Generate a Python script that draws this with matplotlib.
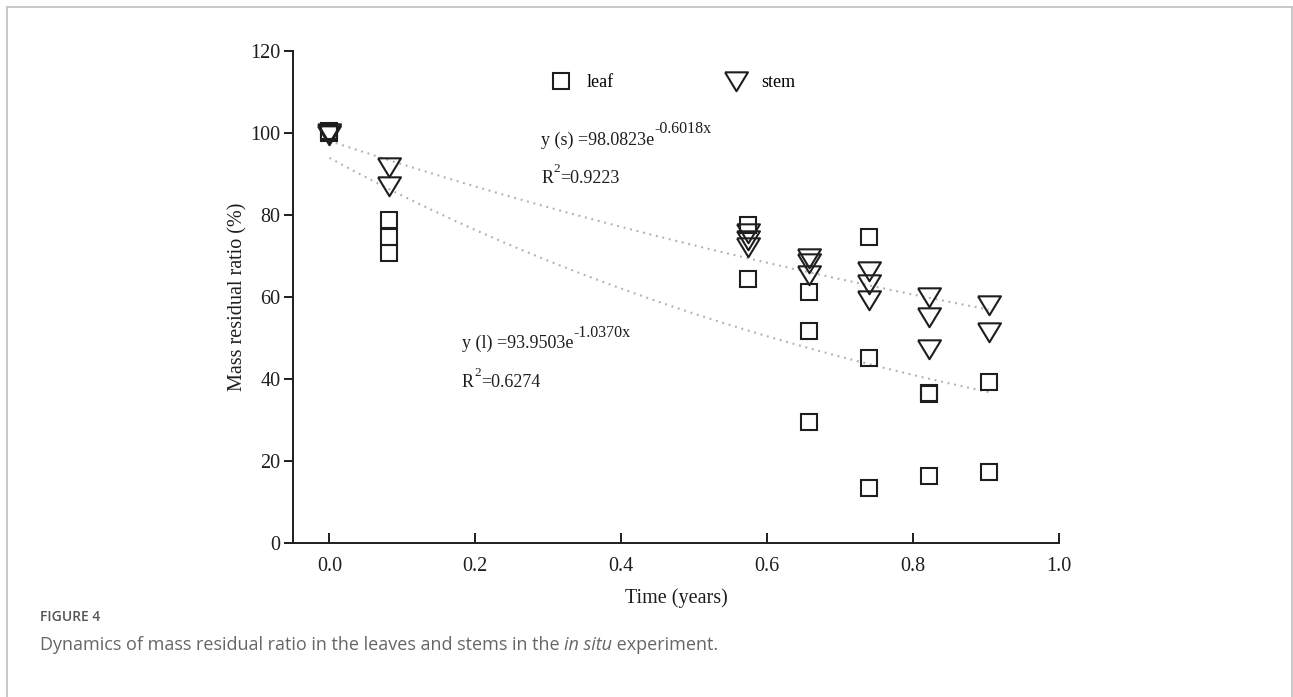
import numpy as np
import matplotlib
matplotlib.use("Agg")
import matplotlib.pyplot as plt
from matplotlib.lines import Line2D

# sampling times (years) and measured mass residual ratio (%)
times = [0.0, 0.082, 0.574, 0.658, 0.740, 0.822, 0.904]
leaf_values = [
    [100.0, 100.5],
    [78.8, 74.6, 70.7],
    [77.6, 64.4],
    [61.2, 51.7, 29.5],
    [74.6, 45.1, 13.4],
    [36.3, 36.6, 16.3],
    [39.3, 17.3],
]
stem_values = [
    [100.0, 99.5],
    [91.7, 87.0],
    [75.5, 74.0, 72.3],
    [69.5, 68.2, 65.4],
    [66.3, 63.2, 59.3],
    [60.0, 55.1, 47.3],
    [58.0, 51.5],
]

# exponential fits y = a * exp(b * x)
stem_fit = (98.0823, -0.6018, 0.9223)
leaf_fit = (93.9503, -1.0370, 0.6274)

xticks = [0.0, 0.2, 0.4, 0.6, 0.8, 1.0]
yticks = [0, 20, 40, 60, 80, 100, 120]

plt.rcParams["font.family"] = ["Liberation Serif", "DejaVu Serif"]

ink = "#1e1e1e"
sans = ["Open Sans", "DejaVu Sans"]
grey_text = "#666666"


def fit_label(ax, x, y, name, fit):
    a, b, r2 = fit
    t = ax.text(x, y, f"y ({name}) ={a:.4f}e", fontsize=13,
                va="center", ha="left", color=ink)
    ax.annotate(f"{b:.4f}x", xy=(1, 0.5), xycoords=t, xytext=(0, 8),
                textcoords="offset points", fontsize=11.5, va="center",
                ha="left", color=ink)
    r = ax.text(x, y - 9.5, "R", fontsize=13, va="center", ha="left",
                color=ink)
    sq = ax.annotate("2", xy=(1, 0.5), xycoords=r, xytext=(0.5, 7),
                     textcoords="offset points", fontsize=9.5,
                     va="center", ha="left", color=ink)
    ax.annotate(f"={r2:.4f}", xy=(1, 0.5), xycoords=(sq, r), fontsize=13,
                va="center", ha="left", color=ink)


fig = plt.figure(figsize=(12.93, 6.97), dpi=100)
ax = fig.add_axes([0.2266, 0.2210, 0.5924, 0.7058])

# fitted curves
xfit = np.linspace(0, max(times), 100)
for a, b, r2 in (stem_fit, leaf_fit):
    ax.plot(xfit, a * np.exp(b * xfit), color="#b0b0b0", lw=1.5,
            dashes=(0.9, 2.3), zorder=1)

tri = [(-1, 0.8), (1, 0.8), (0, -0.85), (-1, 0.8)]

lx = [t for t, vals in zip(times, leaf_values) for v in vals]
ly = [v for vals in leaf_values for v in vals]
sx = [t for t, vals in zip(times, stem_values) for v in vals]
sy = [v for vals in stem_values for v in vals]

ax.plot(lx, ly, ls="none", marker="s", ms=12.2, mfc="none", mec=ink,
        mew=1.5, label="leaf", zorder=3)
ax.plot(sx, sy, ls="none", marker=tri, ms=16.5, mfc="none", mec=ink,
        mew=1.5, label="stem", zorder=3)

ax.legend(loc="center", bbox_to_anchor=(0.496, 0.935), ncol=2,
          frameon=False, fontsize=13, handletextpad=0.8,
          columnspacing=6.2, handlelength=1.2)

fit_label(ax, 0.29, 98.3, "s", stem_fit)
fit_label(ax, 0.181, 48.6, "l", leaf_fit)

ax.set_xlim(-0.05, 1.0)
ax.set_ylim(0, 120)
ax.set_xticks(xticks)
ax.set_xticklabels([f"{t:.1f}" for t in xticks])
ax.set_yticks(yticks)

for s in ["top", "right"]:
    ax.spines[s].set_visible(False)
for s in ["left", "bottom"]:
    ax.spines[s].set_linewidth(1.4)
    ax.spines[s].set_color(ink)

ax.tick_params(axis="y", direction="out", length=6.5, width=1.4,
               labelsize=14.5, pad=2.5, colors=ink)
ax.tick_params(axis="x", direction="in", length=7, width=1.4,
               labelsize=14.5, pad=10, colors=ink)

ax.set_xlabel("Time (years)", fontsize=14.5, labelpad=9, color=ink)
ax.set_ylabel("Mass residual ratio (%)", fontsize=14.5, labelpad=2,
              color=ink)

# page frame and caption
frame = "#c4c4c4"
top = 1 - 7 / 697
fig.add_artist(Line2D([7 / 1293, 1292 / 1293], [top, top], color=frame, lw=1.3))
fig.add_artist(Line2D([7 / 1293, 7 / 1293], [0, top], color=frame, lw=1.3))
fig.add_artist(Line2D([1292 / 1293, 1292 / 1293], [0, top], color=frame, lw=1.3))

fig.text(40 / 1293, 1 - 617 / 697, "FIGURE 4", fontsize=10, color="#555555",
         family=sans, fontweight="semibold", va="center", ha="left")
c1 = fig.text(40 / 1293, 1 - 645 / 697,
              "Dynamics of mass residual ratio in the leaves and stems in the ",
              fontsize=13, color=grey_text, family=sans, va="center", ha="left")
c2 = fig.add_artist(matplotlib.text.Annotation(
    "in situ", xy=(1, 0), xycoords=c1, fontsize=13, color=grey_text,
    family=sans, style="italic", va="bottom", ha="left",
    annotation_clip=False))
fig.add_artist(matplotlib.text.Annotation(
    " experiment.", xy=(1, 0), xycoords=c2, fontsize=13, color=grey_text,
    family=sans, va="bottom", ha="left", annotation_clip=False))

fig.savefig("out.png", dpi=100)
